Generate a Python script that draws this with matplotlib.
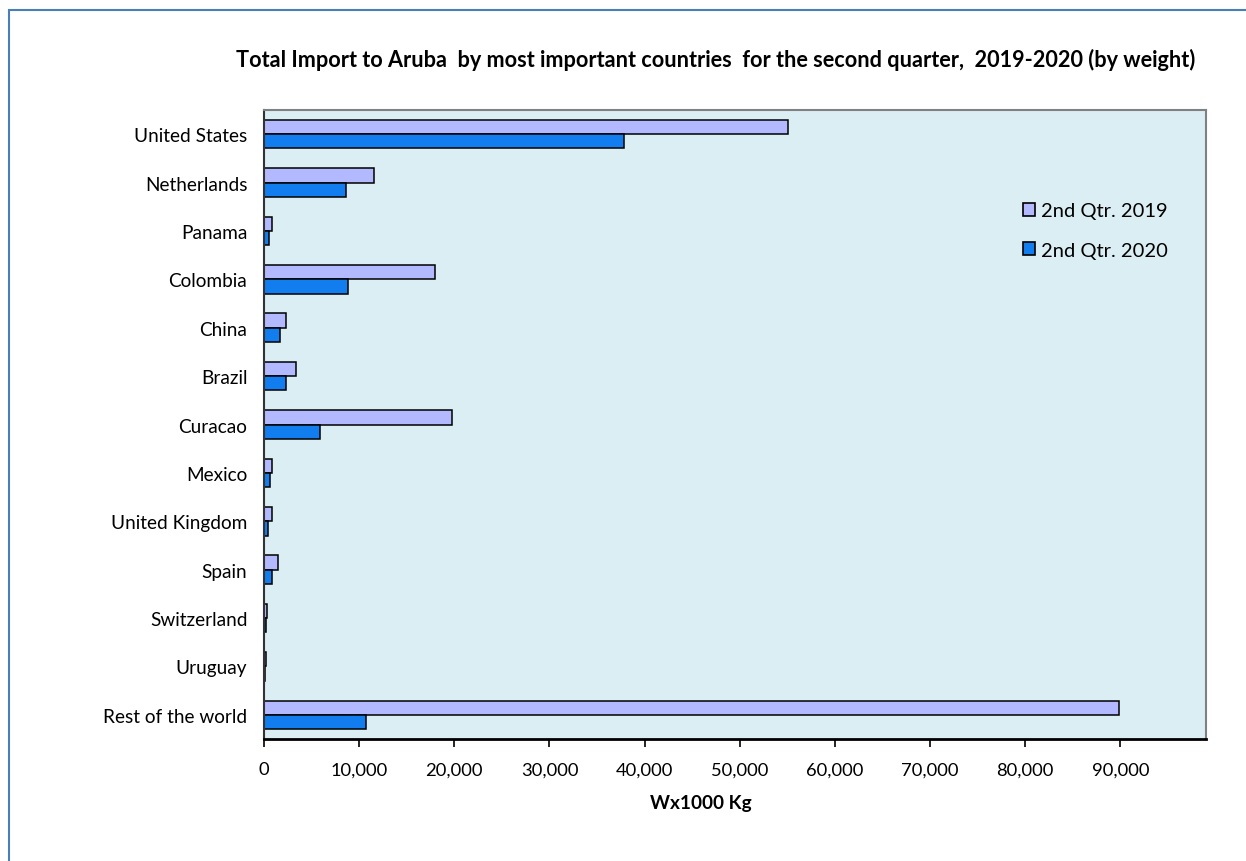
import numpy as np
import matplotlib
matplotlib.use("Agg")
import matplotlib.pyplot as plt
from matplotlib.patches import Rectangle, Patch
from matplotlib.ticker import FuncFormatter

# data (W x 1000 Kg)
countries = ["United States", "Netherlands", "Panama", "Colombia", "China",
             "Brazil", "Curacao", "Mexico", "United Kingdom", "Spain",
             "Switzerland", "Uruguay", "Rest of the world"]
q2_2019 = [55100, 11600, 870, 18000, 2300, 3400, 19800, 870, 870, 1500,
           300, 250, 89900]
q2_2020 = [37800, 8600, 490, 8800, 1700, 2300, 5900, 660, 450, 870,
           250, 100, 10700]
series_names = ["2nd Qtr. 2019", "2nd Qtr. 2020"]
x_ticks = [0, 10000, 20000, 30000, 40000, 50000, 60000, 70000, 80000, 90000]

col_2019 = "#B3B9FF"
col_2020 = "#127DEE"
bg = "#DAEEF3"

plt.rcParams["font.family"] = ["Lato", "DejaVu Sans"]

fig = plt.figure(figsize=(12.46, 8.62), dpi=100)
ax = fig.add_axes([0.2119, 0.1415, 0.7560, 0.7297])
ax.set_facecolor(bg)

y = np.arange(len(countries))
h = 0.295
ax.barh(y - h / 2, q2_2019, height=h, color=col_2019, edgecolor="black", linewidth=1.1)
ax.barh(y + h / 2, q2_2020, height=h, color=col_2020, edgecolor="black", linewidth=1.1)

ax.set_ylim(len(countries) - 0.5, -0.5)
ax.set_xlim(0, 99000)
ax.set_yticks(y)
ax.set_yticklabels(countries, fontsize=13.7)
ax.set_xticks(x_ticks)
ax.xaxis.set_major_formatter(FuncFormatter(lambda v, p: f"{int(v):,}"))
ax.tick_params(axis="x", labelsize=13.2, length=6, width=1.2, pad=10, direction="out")
ax.tick_params(axis="y", length=0, pad=12)

for s in ["top", "right"]:
    ax.spines[s].set_color("#808080")
    ax.spines[s].set_linewidth(1.5)
ax.spines["left"].set_color("#333333")
ax.spines["left"].set_linewidth(1.5)
ax.spines["bottom"].set_color("black")
ax.spines["bottom"].set_linewidth(2)

handles = [Patch(facecolor=col_2019, edgecolor="black", linewidth=1.2),
           Patch(facecolor=col_2020, edgecolor="black", linewidth=1.2)]
ax.legend(handles, series_names, loc="upper left", bbox_to_anchor=(0.786, 0.882),
          frameon=False, fontsize=14.5, handlelength=0.6, handleheight=0.6,
          handletextpad=0.3, labelspacing=1.1)

fig.text(0.574, 0.930, "Total Import to Aruba  by most important countries  for the second quarter,  2019-2020 (by weight)",
         ha="center", va="center", fontsize=15.6, fontweight="bold")
fig.text(0.5626, 0.0684, "Wx1000 Kg", ha="center", va="center", fontsize=13.7, fontweight="bold")

# outer chart border
fig.patches.append(Rectangle((9 / 1246, -0.1), 1.2, 1 - 11 / 862 + 0.1, transform=fig.transFigure,
                             fill=False, edgecolor="#4A7EBB", linewidth=1.5))

fig.savefig("out.png", dpi=100)
